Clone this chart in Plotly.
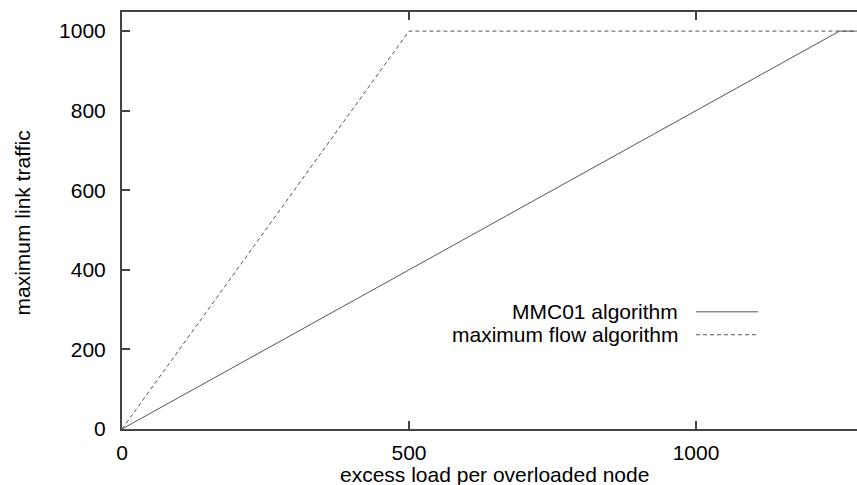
import plotly.graph_objects as go

# Data
mmc_x = [0, 1250, 1280]
mmc_y = [0, 1000, 1000]
flow_x = [0, 500, 1280]
flow_y = [0, 1000, 1000]
x_ticks = [0, 500, 1000]
y_ticks = [0, 200, 400, 600, 800, 1000]
series_names = ["MMC01 algorithm", "maximum flow algorithm"]
x_title = "excess load per overloaded node"
y_title = "maximum link traffic"

FONT = "Liberation Sans, Arial, sans-serif"
AX = "#444444"
LINE = "#555555"
TXT = dict(family=FONT, size=21, color="black")

# the plot frame continues past the right edge of the visible window
FIG_W = 897
PLOT_W = FIG_W - 122


def px(p):
    return (p - 122) / PLOT_W


fig = go.Figure()
fig.add_trace(go.Scatter(x=mmc_x, y=mmc_y, mode="lines",
                         line=dict(color=LINE, width=1), name=series_names[0],
                         showlegend=False))
fig.add_trace(go.Scatter(x=flow_x, y=flow_y, mode="lines",
                         line=dict(color=LINE, width=1, dash="4px,3px"),
                         name=series_names[1], showlegend=False))

# gnuplot-style legend: right-aligned text, sample on the right
leg_rows = [(0.281, "solid"), (0.226, "4px,3px")]
for (yy, dash), name in zip(leg_rows, series_names):
    fig.add_annotation(x=px(680), y=yy, xref="paper", yref="paper", text=name,
                       showarrow=False, xanchor="right", yanchor="middle",
                       font=TXT)
    fig.add_shape(type="line", xref="paper", yref="paper",
                  x0=px(696), x1=px(758), y0=yy, y1=yy,
                  line=dict(color=LINE, width=1, dash=dash))

# axis titles
fig.add_annotation(x=px(494), y=0, xref="paper", yref="paper", text=x_title,
                   showarrow=False, xanchor="center", yanchor="middle",
                   yshift=-45, font=TXT)
fig.add_annotation(x=0, y=0.5, xref="paper", yref="paper", text=y_title,
                   showarrow=False, xanchor="center", yanchor="middle",
                   textangle=-90, xshift=-100, yshift=-3, font=TXT)

axis_common = dict(showgrid=False, zeroline=False, showline=True, linecolor=AX,
                   linewidth=2, mirror="ticks", ticks="inside", ticklen=8,
                   tickcolor=AX, tickwidth=1.5, automargin=False,
                   tickfont=TXT)

fig.update_xaxes(range=[0, PLOT_W / 0.574], tickvals=x_ticks,
                 ticklabelstandoff=4, **axis_common)
fig.update_yaxes(range=[0, 1048], tickvals=y_ticks, ticklabelstandoff=10,
                 **axis_common)

fig.update_layout(width=FIG_W, height=485,
                  margin=dict(l=122, r=0, t=12, b=56),
                  paper_bgcolor="white", plot_bgcolor="white",
                  font=TXT)

fig.write_html("out.html", config={"displayModeBar": False},
               post_script="document.body.style.margin='0';"
                           "document.body.style.overflow='hidden';")
